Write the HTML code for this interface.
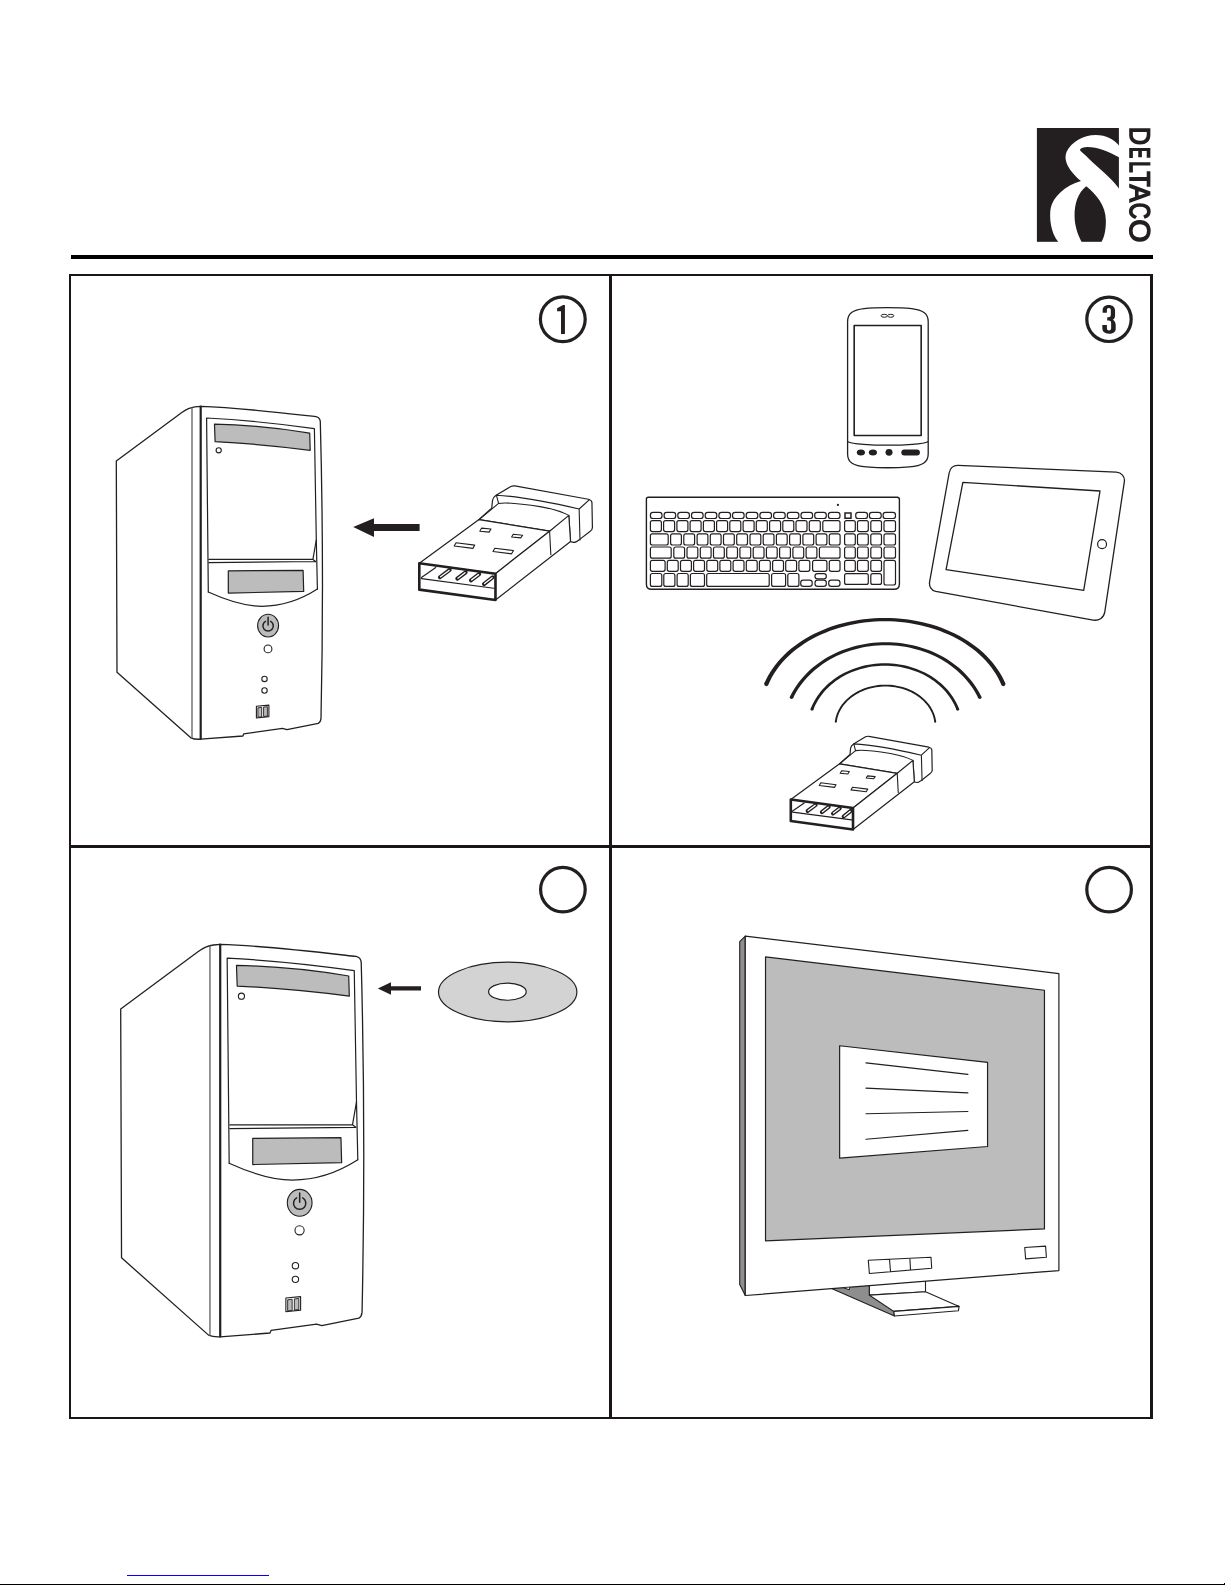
<!DOCTYPE html>
<html><head><meta charset="utf-8"><title>DELTACO</title>
<style>
html,body{margin:0;padding:0;background:#fff;}
body{width:1225px;height:1585px;position:relative;overflow:hidden;font-family:"Liberation Sans",sans-serif;}
svg{position:absolute;left:0;top:0;}
.s{fill:none;stroke:#231f20;vector-effect:non-scaling-stroke;stroke-linejoin:round;stroke-linecap:round;}
.w{fill:#fff;stroke:#231f20;vector-effect:non-scaling-stroke;stroke-linejoin:round;}
.lt{stroke:#231f20;stroke-width:1.5px;vector-effect:non-scaling-stroke;stroke-linejoin:miter;stroke-miterlimit:2;}
.g{fill:#bcbcbc;stroke:#231f20;vector-effect:non-scaling-stroke;stroke-linejoin:round;}
</style></head>
<body>
<svg width="1225" height="1585" viewBox="0 0 1225 1585">
<!-- top rule -->
<rect x="71" y="255" width="1082" height="4" fill="#000"/>
<!-- frame -->
<rect x="70" y="275" width="1082" height="1143" fill="none" stroke="#1a1617" stroke-width="2"/>
<rect x="1150" y="274" width="3" height="1145" fill="#1a1617"/>
<rect x="609" y="275" width="3" height="1143" fill="#1a1617"/>
<rect x="70" y="845" width="1082" height="3" fill="#1a1617"/>
<!-- bottom line / link -->
<rect x="127" y="1575" width="142" height="1" fill="#0000ff"/>
<rect x="0" y="1584" width="1225" height="1" fill="#000"/>
<rect x="1224" y="1583" width="1" height="1" fill="#000"/>

<!-- step circles -->
<circle cx="562.8" cy="319.2" r="22.4" fill="none" stroke="#231f20" stroke-width="3.2"/>
<path d="M568,432 L660,383 L688,383 L688,825 L628,825 L628,478 L568,478 Z" transform="translate(520,280) scale(0.065306)" fill="#231f20"/>
<circle cx="1109" cy="319.3" r="22.2" fill="none" stroke="#231f20" stroke-width="3.2"/>
<path d="M500,500 L500,460 C500,410 545,383 595,383 C650,383 690,415 690,470 L690,545 C690,580 675,600 655,610 C680,625 700,650 700,690 L700,745 C700,795 660,822 598,822 C535,822 495,790 495,735 L495,690 L565,690 L565,730 C565,760 575,772 598,772 C620,772 630,760 630,730 L630,660 C630,630 615,620 590,620 L570,620 L570,570 L590,570 C615,570 625,560 625,530 L625,465 C625,440 615,430 595,430 C575,430 565,440 565,465 L565,500 Z" transform="translate(1070,280) scale(0.065306)" fill="#231f20"/>
<circle cx="562.9" cy="889.6" r="22.3" fill="none" stroke="#231f20" stroke-width="3.2"/>
<circle cx="1109.1" cy="889.6" r="22.3" fill="none" stroke="#231f20" stroke-width="3.2"/>


<!-- TOWER (panel 1 coords) -->
<defs>
<g id="tower">
<path class="w" stroke-width="1.3" d="M116.3,461.1 L181.8,412.6 C186,409.5 189,407.6 195,406.9 L200.7,406.3 C239,407.6 278,412.3 316,416.6 Q320,417.6 320.3,421.6 C322.4,500 323.6,600 321,718.5 Q320.6,722.2 318.3,723.4 L286.9,729.7 L282.4,728.4 L243.8,733.8 L242.9,736 L200.7,739.2 Q194.5,739.5 190.8,737.8 L117,672.2 Z"/>
<path class="s" stroke-width="1.4" style="stroke:#6a6a6a" d="M192,408 L192,737.8"/>
<path class="s" stroke-width="2.2" d="M200.7,406.6 L200.7,739"/>
<path class="s" stroke-width="1.2" d="M206.6,418 Q262,421 314.4,428.7 L316.3,540 L317.4,589.1 M206.6,418 L208.3,592"/>
<path class="s" stroke-width="1.2" d="M208.9,559.4 L312.9,559.4 L316.3,540 M312.9,559.4 L315.7,561.5 M208.9,562.6 L315.7,561.5"/>
<path class="s" stroke-width="1.2" d="M208.3,592 C228,601 246,606.3 262,606.3 C282,606.3 302,599 317.4,589.1"/>
<path class="g" stroke-width="1.2" d="M214.5,424.2 Q262,425.1 309.7,433.2 L310.2,450.3 Q262,444 215.1,441.7 Z"/>
<circle class="w" stroke-width="1.1" cx="218.7" cy="450.3" r="2.6"/>
<path class="g" stroke-width="1.2" d="M228.3,570.9 L303.1,570.3 L303.7,591.4 L228.3,593.1 Z"/>
<ellipse class="g" stroke-width="1.1" cx="268.1" cy="625.6" rx="10.5" ry="11.4"/>
<path class="s" stroke-width="1.5" d="M270.7,621.4 A5.2,5.2 0 1 1 265.5,621.4 M268.1,617.3 L268.1,625"/>
<circle class="w" stroke-width="1.1" cx="268" cy="648.9" r="3.9"/>
<circle class="w" stroke-width="1.1" cx="264.5" cy="678.9" r="2.7"/>
<circle class="w" stroke-width="1.1" cx="264.5" cy="690.5" r="2.7"/>
<path class="w" stroke-width="1.1" d="M256.4,706.3 L268.9,705.1 L268.9,716.6 L256.4,718 Z"/>
<path class="g" stroke-width="0.9" d="M257.9,707.8 L261.7,707.4 L261.7,716.8 L257.9,717.2 Z M263.6,707.1 L267.4,706.7 L267.4,716.1 L263.6,716.5 Z"/>
</g>
</defs>
<use href="#tower"/>
<use href="#tower" transform="translate(120.7,944.3) scale(1.179) translate(-116.3,-406.3)"/>


<!-- USB DONGLE (drawn in local coords) -->
<defs>
<g id="dongle">
<!-- cap -->
<path class="w" stroke-width="1.2" d="M527,181 L532,132 C535,115 545,104 555,98 L650,42 C658,38 666,37 676,38 L1150,124 C1164,128 1172,134 1173,145 L1176,306 C1176,318 1170,326 1160,332 L1090,386 L1070,399 C1060,404 1045,402 1035,397 L900,330 L445,255 Z"/>
<path class="s" stroke-width="1.1" d="M558,98 Q758.75,109.5 1090.5,187 L1156.8,126 M1090.5,187 L1096,386 M557,98 L571,151"/>
<path class="s" stroke-width="1.1" d="M571,151 C600,145 700,150 847,173 C930,188 990,210 1024,228 L1035,397"/>
<!-- body top & side -->
<path class="w" stroke-width="1.2" d="M60,537 L445,255 L900,330 L551,604 Z"/>
<path class="s" stroke-width="1.1" d="M445,255 L571,151"/>
<path class="w" stroke-width="1.2" d="M551,604 L900,330 L1024,228 L1035,397 L551,774 Z"/>
<path class="s" stroke-width="1.1" d="M900,330 L908,482"/>
<!-- holes -->
<path class="w" stroke-width="1.1" d="M462,310 L522,316 L510,336 L450,330 Z M666,350 L726,356 L714,373 L655,367 Z M297,405 L417,420 L405,441 L285,426 Z M547,440 L667,455 L655,476 L535,461 Z"/>
<!-- front face -->
<path class="w" stroke-width="2.6" d="M60,537 L551,604 L551,774 L60,707 Z"/>
<path class="s" stroke-width="1.2" d="M74,628 L166,564 M74,636 L540,698"/>
<g>
<path class="s" stroke-width="4.0" d="M193,627 L256,580 M305,636 L359,595 M393,647 L446,607 M477,671 L533,627"/>
</g>
<g>
<path class="s" style="stroke:#fff" stroke-width="1.3" d="M197,624 L252,583 M309,633 L355,598 M397,644 L442,610 M481,668 L529,630"/>
</g>
</g>
</defs>
<use href="#dongle" transform="translate(410,480) scale(0.15511)"/>
<use href="#dongle" transform="translate(783.2,731.5) scale(0.1267)"/>
<!-- arrows -->
<path d="M353.2,527.1 L374,518.2 L374,523.9 L419.6,523.9 L419.6,530.9 L374,530.9 L374,536.9 Z" fill="#231f20"/>
<path d="M377.8,988.5 L391,982.3 L391,986.2 L421,986.2 L421,990.6 L391,990.6 L391,994.7 Z" fill="#231f20"/>
<!-- CD -->
<ellipse cx="507.7" cy="992" rx="69.2" ry="29.8" fill="#d3d3d3" stroke="#231f20" stroke-width="1.2"/>
<ellipse cx="507.4" cy="991.7" rx="18.8" ry="8.55" fill="#fff" stroke="#231f20" stroke-width="1.2"/>


<!-- PANEL 3 -->
<g id="phone" transform="translate(830,295) scale(0.113533)">
<path class="w" stroke-width="1.3" d="M155,235 C155,160 200,132 300,120 C400,108 610,108 720,120 C815,132 865,160 865,235 L865,1400 C865,1475 810,1505 700,1514 C600,1522 420,1522 320,1514 C205,1505 155,1475 155,1400 Z"/>
<rect class="w" stroke-width="1.6" x="213" y="268" width="590" height="969"/>
<path class="s" stroke-width="1.3" d="M158,1292 C190,1312 380,1324 510,1323 C640,1324 830,1312 862,1292"/>
<ellipse class="w" stroke-width="1.0" cx="478" cy="183" rx="28" ry="13"/>
<ellipse class="w" stroke-width="1.0" cx="535" cy="183" rx="28" ry="13"/>
<g fill="#231f20">
<ellipse cx="272" cy="1387" rx="36" ry="26"/>
<ellipse cx="378" cy="1387" rx="36" ry="26"/>
<ellipse cx="520" cy="1386" rx="31" ry="30"/>
<rect x="628" y="1361" width="164" height="52" rx="26"/>
</g>
</g>
<g id="tablet" transform="translate(920,455) scale(0.171438)">
<path class="w" stroke-width="1.3" d="M222,60 L1145,100 C1175,102 1196,125 1192,155 L1078,915 C1073,948 1045,968 1010,963 L92,796 C65,790 52,765 56,740 L170,105 C175,78 195,59 222,60 Z"/>
<path class="w" stroke-width="1.3" d="M250,160 L1050,210 L955,790 L152,668 Z"/>
<circle class="w" stroke-width="1.2" cx="1062" cy="520" r="26"/>
</g>
<g id="keyboard">
<path class="w" stroke-width="1.4" d="M648.2,497.2 L897.2,497.2 Q899.4,497.2 899.4,499.4 L899.4,584 Q899.4,589.3 894,589.3 L651.5,589.3 Q646.4,589.3 646.4,584.2 L646.4,499 Q646.4,497.2 648.2,497.2 Z"/>
<circle cx="837.9" cy="504.9" r="1.1" fill="#231f20"/>
<rect class="w" stroke-width="1.2" x="650.4" y="512.3" width="11.6" height="6.2" rx="2.6"/>
<rect class="w" stroke-width="1.2" x="664.1" y="512.3" width="11.6" height="6.2" rx="2.6"/>
<rect class="w" stroke-width="1.2" x="677.8" y="512.3" width="11.6" height="6.2" rx="2.6"/>
<rect class="w" stroke-width="1.2" x="691.5" y="512.3" width="11.6" height="6.2" rx="2.6"/>
<rect class="w" stroke-width="1.2" x="705.2" y="512.3" width="11.6" height="6.2" rx="2.6"/>
<rect class="w" stroke-width="1.2" x="718.9" y="512.3" width="11.6" height="6.2" rx="2.6"/>
<rect class="w" stroke-width="1.2" x="732.5" y="512.3" width="11.6" height="6.2" rx="2.6"/>
<rect class="w" stroke-width="1.2" x="746.2" y="512.3" width="11.6" height="6.2" rx="2.6"/>
<rect class="w" stroke-width="1.2" x="759.9" y="512.3" width="11.6" height="6.2" rx="2.6"/>
<rect class="w" stroke-width="1.2" x="773.6" y="512.3" width="11.6" height="6.2" rx="2.6"/>
<rect class="w" stroke-width="1.2" x="787.3" y="512.3" width="11.6" height="6.2" rx="2.6"/>
<rect class="w" stroke-width="1.2" x="801.0" y="512.3" width="11.6" height="6.2" rx="2.6"/>
<rect class="w" stroke-width="1.2" x="814.7" y="512.3" width="11.6" height="6.2" rx="2.6"/>
<rect class="w" stroke-width="1.2" x="828.4" y="512.3" width="11.6" height="6.2" rx="2.6"/>
<rect class="w" stroke-width="1.2" x="855.7" y="512.3" width="11.8" height="6.2" rx="2.6"/>
<rect class="w" stroke-width="1.2" x="869.4" y="512.3" width="11.8" height="6.2" rx="2.6"/>
<rect class="w" stroke-width="1.2" x="883.1" y="512.3" width="12.4" height="6.2" rx="2.6"/>
<rect class="w" stroke-width="1.2" x="650.4" y="520.6" width="11.0" height="11.0" rx="2.0"/>
<rect class="w" stroke-width="1.2" x="663.6" y="520.6" width="11.0" height="11.0" rx="2.0"/>
<rect class="w" stroke-width="1.2" x="676.9" y="520.6" width="11.0" height="11.0" rx="2.0"/>
<rect class="w" stroke-width="1.2" x="690.1" y="520.6" width="11.0" height="11.0" rx="2.0"/>
<rect class="w" stroke-width="1.2" x="703.4" y="520.6" width="11.0" height="11.0" rx="2.0"/>
<rect class="w" stroke-width="1.2" x="716.6" y="520.6" width="11.0" height="11.0" rx="2.0"/>
<rect class="w" stroke-width="1.2" x="729.8" y="520.6" width="11.0" height="11.0" rx="2.0"/>
<rect class="w" stroke-width="1.2" x="743.1" y="520.6" width="11.0" height="11.0" rx="2.0"/>
<rect class="w" stroke-width="1.2" x="756.3" y="520.6" width="11.0" height="11.0" rx="2.0"/>
<rect class="w" stroke-width="1.2" x="769.6" y="520.6" width="11.0" height="11.0" rx="2.0"/>
<rect class="w" stroke-width="1.2" x="782.8" y="520.6" width="11.0" height="11.0" rx="2.0"/>
<rect class="w" stroke-width="1.2" x="796.0" y="520.6" width="11.0" height="11.0" rx="2.0"/>
<rect class="w" stroke-width="1.2" x="809.3" y="520.6" width="11.0" height="11.0" rx="2.0"/>
<rect class="w" stroke-width="1.2" x="822.8" y="520.6" width="17.2" height="11.0" rx="2.0"/>
<rect class="w" stroke-width="1.2" x="650.4" y="533.8" width="17.8" height="11.2" rx="2.0"/>
<rect class="w" stroke-width="1.2" x="670.6" y="533.8" width="10.8" height="11.2" rx="2.0"/>
<rect class="w" stroke-width="1.2" x="683.8" y="533.8" width="10.8" height="11.2" rx="2.0"/>
<rect class="w" stroke-width="1.2" x="697.1" y="533.8" width="10.8" height="11.2" rx="2.0"/>
<rect class="w" stroke-width="1.2" x="710.3" y="533.8" width="10.8" height="11.2" rx="2.0"/>
<rect class="w" stroke-width="1.2" x="723.5" y="533.8" width="10.8" height="11.2" rx="2.0"/>
<rect class="w" stroke-width="1.2" x="736.7" y="533.8" width="10.8" height="11.2" rx="2.0"/>
<rect class="w" stroke-width="1.2" x="750.0" y="533.8" width="10.8" height="11.2" rx="2.0"/>
<rect class="w" stroke-width="1.2" x="763.2" y="533.8" width="10.8" height="11.2" rx="2.0"/>
<rect class="w" stroke-width="1.2" x="776.4" y="533.8" width="10.8" height="11.2" rx="2.0"/>
<rect class="w" stroke-width="1.2" x="789.6" y="533.8" width="10.8" height="11.2" rx="2.0"/>
<rect class="w" stroke-width="1.2" x="802.9" y="533.8" width="10.8" height="11.2" rx="2.0"/>
<rect class="w" stroke-width="1.2" x="816.1" y="533.8" width="10.8" height="11.2" rx="2.0"/>
<rect class="w" stroke-width="1.2" x="829.3" y="533.8" width="10.8" height="11.2" rx="2.0"/>
<rect class="w" stroke-width="1.2" x="650.4" y="547.0" width="20.8" height="11.2" rx="2.0"/>
<rect class="w" stroke-width="1.2" x="673.8" y="547.0" width="10.8" height="11.2" rx="2.0"/>
<rect class="w" stroke-width="1.2" x="687.0" y="547.0" width="10.8" height="11.2" rx="2.0"/>
<rect class="w" stroke-width="1.2" x="700.3" y="547.0" width="10.8" height="11.2" rx="2.0"/>
<rect class="w" stroke-width="1.2" x="713.5" y="547.0" width="10.8" height="11.2" rx="2.0"/>
<rect class="w" stroke-width="1.2" x="726.7" y="547.0" width="10.8" height="11.2" rx="2.0"/>
<rect class="w" stroke-width="1.2" x="739.9" y="547.0" width="10.8" height="11.2" rx="2.0"/>
<rect class="w" stroke-width="1.2" x="753.2" y="547.0" width="10.8" height="11.2" rx="2.0"/>
<rect class="w" stroke-width="1.2" x="766.4" y="547.0" width="10.8" height="11.2" rx="2.0"/>
<rect class="w" stroke-width="1.2" x="779.6" y="547.0" width="10.8" height="11.2" rx="2.0"/>
<rect class="w" stroke-width="1.2" x="792.9" y="547.0" width="10.8" height="11.2" rx="2.0"/>
<rect class="w" stroke-width="1.2" x="806.1" y="547.0" width="10.8" height="11.2" rx="2.0"/>
<rect class="w" stroke-width="1.2" x="819.4" y="547.0" width="20.6" height="11.2" rx="2.0"/>
<rect class="w" stroke-width="1.2" x="650.4" y="560.3" width="14.7" height="11.0" rx="2.0"/>
<rect class="w" stroke-width="1.2" x="667.3" y="560.3" width="10.9" height="11.0" rx="2.0"/>
<rect class="w" stroke-width="1.2" x="680.5" y="560.3" width="10.9" height="11.0" rx="2.0"/>
<rect class="w" stroke-width="1.2" x="693.6" y="560.3" width="10.9" height="11.0" rx="2.0"/>
<rect class="w" stroke-width="1.2" x="706.8" y="560.3" width="10.9" height="11.0" rx="2.0"/>
<rect class="w" stroke-width="1.2" x="719.9" y="560.3" width="10.9" height="11.0" rx="2.0"/>
<rect class="w" stroke-width="1.2" x="733.1" y="560.3" width="10.9" height="11.0" rx="2.0"/>
<rect class="w" stroke-width="1.2" x="746.3" y="560.3" width="10.9" height="11.0" rx="2.0"/>
<rect class="w" stroke-width="1.2" x="759.4" y="560.3" width="10.9" height="11.0" rx="2.0"/>
<rect class="w" stroke-width="1.2" x="772.6" y="560.3" width="10.9" height="11.0" rx="2.0"/>
<rect class="w" stroke-width="1.2" x="785.7" y="560.3" width="10.9" height="11.0" rx="2.0"/>
<rect class="w" stroke-width="1.2" x="798.9" y="560.3" width="10.9" height="11.0" rx="2.0"/>
<rect class="w" stroke-width="1.2" x="812.6" y="560.3" width="14.3" height="11.0" rx="2.0"/>
<rect class="w" stroke-width="1.2" x="829.3" y="560.3" width="10.7" height="11.0" rx="2.0"/>
<rect class="w" stroke-width="1.2" x="650.4" y="573.5" width="11.4" height="12.9" rx="2.0"/>
<rect class="w" stroke-width="1.2" x="663.8" y="573.5" width="11.1" height="12.9" rx="2.0"/>
<rect class="w" stroke-width="1.2" x="677.1" y="573.5" width="11.1" height="12.9" rx="2.0"/>
<rect class="w" stroke-width="1.2" x="690.4" y="573.5" width="14.1" height="12.9" rx="2.0"/>
<rect class="w" stroke-width="1.2" x="706.7" y="573.5" width="62.5" height="12.9" rx="2.0"/>
<rect class="w" stroke-width="1.2" x="771.6" y="573.5" width="14.0" height="12.9" rx="2.0"/>
<rect class="w" stroke-width="1.2" x="787.8" y="573.5" width="11.1" height="12.9" rx="2.0"/>
<rect class="w" stroke-width="1.2" x="815.0" y="573.7" width="11.3" height="5.1" rx="2.4"/>
<rect class="w" stroke-width="1.2" x="800.7" y="580.1" width="11.5" height="6.3" rx="2.6"/>
<rect class="w" stroke-width="1.2" x="815.0" y="580.1" width="11.3" height="6.3" rx="2.6"/>
<rect class="w" stroke-width="1.2" x="828.7" y="580.1" width="11.3" height="6.3" rx="2.6"/>
<rect class="w" stroke-width="1.2" x="844.6" y="520.6" width="10.7" height="11.0" rx="2.0"/>
<rect class="w" stroke-width="1.2" x="857.5" y="520.6" width="10.8" height="11.0" rx="2.0"/>
<rect class="w" stroke-width="1.2" x="870.8" y="520.6" width="10.7" height="11.0" rx="2.0"/>
<rect class="w" stroke-width="1.2" x="884.0" y="520.6" width="11.5" height="11.0" rx="2.0"/>
<rect class="w" stroke-width="1.2" x="844.6" y="533.8" width="10.7" height="11.2" rx="2.0"/>
<rect class="w" stroke-width="1.2" x="857.5" y="533.8" width="10.8" height="11.2" rx="2.0"/>
<rect class="w" stroke-width="1.2" x="870.8" y="533.8" width="10.7" height="11.2" rx="2.0"/>
<rect class="w" stroke-width="1.2" x="884.0" y="533.8" width="11.5" height="11.2" rx="2.0"/>
<rect class="w" stroke-width="1.2" x="844.6" y="547.0" width="10.7" height="11.2" rx="2.0"/>
<rect class="w" stroke-width="1.2" x="857.5" y="547.0" width="10.8" height="11.2" rx="2.0"/>
<rect class="w" stroke-width="1.2" x="870.8" y="547.0" width="10.7" height="11.2" rx="2.0"/>
<rect class="w" stroke-width="1.2" x="884.0" y="547.0" width="11.5" height="11.2" rx="2.0"/>
<rect class="w" stroke-width="1.2" x="844.6" y="560.3" width="10.7" height="11.0" rx="2.0"/>
<rect class="w" stroke-width="1.2" x="857.5" y="560.3" width="10.8" height="11.0" rx="2.0"/>
<rect class="w" stroke-width="1.2" x="870.8" y="560.3" width="10.7" height="11.0" rx="2.0"/>
<rect class="w" stroke-width="1.2" x="884.0" y="560.3" width="11.5" height="24.7" rx="2.0"/>
<rect class="w" stroke-width="1.2" x="844.6" y="573.7" width="23.7" height="10.7" rx="2.0"/>
<rect class="w" stroke-width="1.2" x="870.8" y="573.7" width="10.7" height="10.7" rx="2.0"/>
<rect class="w" stroke-width="1.5" x="845" y="512.9" width="6" height="5.3" style="stroke-linejoin:miter"/>
</g>
<g id="waves">
<path fill="#231f20" d="M1005.35,683.50 L1003.65,679.75 L1001.75,676.06 L999.63,672.44 L997.31,668.88 L994.79,665.40 L992.07,662.00 L989.16,658.70 L986.06,655.48 L982.78,652.36 L979.33,649.35 L975.70,646.45 L971.92,643.67 L967.98,641.01 L963.89,638.47 L959.65,636.06 L955.29,633.79 L950.79,631.65 L946.18,629.66 L941.46,627.82 L936.64,626.12 L931.73,624.57 L926.73,623.18 L921.66,621.95 L916.52,620.88 L911.32,619.97 L906.08,619.22 L900.80,618.64 L895.49,618.22 L890.16,617.97 L884.82,617.89 L879.48,617.97 L874.15,618.22 L868.84,618.64 L863.56,619.22 L858.32,619.97 L853.12,620.88 L847.98,621.95 L842.91,623.18 L837.91,624.57 L833.00,626.12 L828.18,627.82 L823.46,629.66 L818.85,631.65 L814.35,633.79 L809.99,636.06 L805.75,638.47 L801.66,641.01 L797.72,643.67 L793.94,646.45 L790.31,649.35 L786.86,652.36 L783.58,655.48 L780.48,658.70 L777.57,662.00 L774.85,665.40 L772.33,668.88 L770.01,672.44 L767.89,676.06 L765.99,679.75 L764.29,683.50 L768.40,684.50 L770.04,680.90 L771.88,677.34 L773.92,673.85 L776.16,670.42 L778.60,667.07 L781.23,663.80 L784.04,660.61 L787.03,657.51 L790.20,654.51 L793.53,651.61 L797.03,648.81 L800.69,646.13 L804.50,643.56 L808.45,641.12 L812.54,638.80 L816.75,636.61 L821.09,634.55 L825.55,632.63 L830.11,630.85 L834.76,629.22 L839.51,627.73 L844.34,626.39 L849.24,625.20 L854.20,624.17 L859.22,623.29 L864.29,622.57 L869.39,622.01 L874.52,621.61 L879.66,621.37 L884.82,621.29 L889.98,621.37 L895.12,621.61 L900.25,622.01 L905.35,622.57 L910.42,623.29 L915.44,624.17 L920.40,625.20 L925.30,626.39 L930.13,627.73 L934.88,629.22 L939.53,630.85 L944.09,632.63 L948.55,634.55 L952.89,636.61 L957.10,638.80 L961.19,641.12 L965.14,643.56 L968.95,646.13 L972.61,648.81 L976.11,651.61 L979.44,654.51 L982.61,657.51 L985.60,660.61 L988.41,663.80 L991.04,667.07 L993.48,670.42 L995.72,673.85 L997.76,677.34 L999.60,680.90 L1001.24,684.50Z"/>
<circle fill="#231f20" cx="1003.29" cy="684.00" r="2.15"/>
<circle fill="#231f20" cx="766.35" cy="684.00" r="2.15"/>
<path fill="#231f20" d="M981.36,696.74 L979.77,693.57 L978.03,690.46 L976.14,687.40 L974.11,684.41 L971.94,681.49 L969.64,678.65 L967.20,675.89 L964.63,673.20 L961.94,670.61 L959.13,668.11 L956.21,665.70 L953.17,663.40 L950.03,661.19 L946.78,659.10 L943.44,657.11 L940.01,655.24 L936.49,653.48 L932.90,651.84 L929.23,650.32 L925.49,648.93 L921.68,647.66 L917.82,646.53 L913.91,645.52 L909.96,644.64 L905.97,643.89 L901.94,643.28 L897.89,642.80 L893.82,642.46 L889.74,642.26 L885.65,642.19 L881.56,642.26 L877.48,642.46 L873.41,642.80 L869.36,643.28 L865.33,643.89 L861.34,644.64 L857.39,645.52 L853.48,646.53 L849.62,647.66 L845.81,648.93 L842.07,650.32 L838.40,651.84 L834.81,653.48 L831.29,655.24 L827.86,657.11 L824.52,659.10 L821.27,661.19 L818.13,663.40 L815.09,665.70 L812.17,668.11 L809.36,670.61 L806.67,673.20 L804.10,675.89 L801.66,678.65 L799.36,681.49 L797.19,684.41 L795.16,687.40 L793.27,690.46 L791.53,693.57 L789.94,696.74 L793.18,697.86 L794.72,694.80 L796.41,691.79 L798.23,688.84 L800.19,685.95 L802.29,683.14 L804.52,680.39 L806.87,677.72 L809.35,675.13 L811.95,672.63 L814.66,670.21 L817.49,667.89 L820.42,665.66 L823.46,663.54 L826.59,661.51 L829.82,659.60 L833.13,657.79 L836.53,656.09 L840.01,654.51 L843.55,653.04 L847.17,651.70 L850.84,650.48 L854.57,649.38 L858.35,648.40 L862.17,647.55 L866.02,646.83 L869.91,646.24 L873.82,645.78 L877.76,645.45 L881.70,645.26 L885.65,645.19 L889.60,645.26 L893.54,645.45 L897.48,645.78 L901.39,646.24 L905.28,646.83 L909.13,647.55 L912.95,648.40 L916.73,649.38 L920.46,650.48 L924.13,651.70 L927.75,653.04 L931.29,654.51 L934.77,656.09 L938.17,657.79 L941.48,659.60 L944.71,661.51 L947.84,663.54 L950.88,665.66 L953.81,667.89 L956.64,670.21 L959.35,672.63 L961.95,675.13 L964.43,677.72 L966.78,680.39 L969.01,683.14 L971.11,685.95 L973.07,688.84 L974.89,691.79 L976.58,694.80 L978.12,697.86Z"/>
<circle fill="#231f20" cx="979.74" cy="697.30" r="1.75"/>
<circle fill="#231f20" cx="791.56" cy="697.30" r="1.75"/>
<path fill="#231f20" d="M959.07,708.83 L958.01,706.23 L956.81,703.66 L955.48,701.14 L954.04,698.66 L952.47,696.24 L950.78,693.88 L948.97,691.58 L947.05,689.35 L945.02,687.18 L942.89,685.09 L940.65,683.08 L938.32,681.15 L935.89,679.30 L933.37,677.54 L930.77,675.87 L928.08,674.29 L925.32,672.81 L922.49,671.43 L919.59,670.15 L916.63,668.97 L913.62,667.90 L910.55,666.94 L907.44,666.09 L904.29,665.34 L901.10,664.71 L897.89,664.19 L894.65,663.79 L891.40,663.50 L888.13,663.33 L884.86,663.27 L881.59,663.33 L878.32,663.50 L875.07,663.79 L871.83,664.19 L868.62,664.71 L865.43,665.34 L862.28,666.09 L859.17,666.94 L856.10,667.90 L853.09,668.97 L850.13,670.15 L847.23,671.43 L844.40,672.81 L841.64,674.29 L838.95,675.87 L836.35,677.54 L833.83,679.30 L831.40,681.15 L829.07,683.08 L826.83,685.09 L824.70,687.18 L822.67,689.35 L820.75,691.58 L818.94,693.88 L817.25,696.24 L815.68,698.66 L814.24,701.14 L812.91,703.66 L811.71,706.23 L810.65,708.83 L813.41,709.57 L814.43,707.06 L815.59,704.58 L816.86,702.15 L818.26,699.77 L819.77,697.44 L821.40,695.16 L823.13,692.95 L824.98,690.80 L826.93,688.71 L828.99,686.70 L831.14,684.76 L833.39,682.89 L835.73,681.11 L838.15,679.42 L840.66,677.81 L843.24,676.29 L845.90,674.86 L848.63,673.53 L851.42,672.30 L854.27,671.17 L857.17,670.13 L860.12,669.21 L863.12,668.38 L866.15,667.67 L869.22,667.06 L872.32,666.56 L875.43,666.17 L878.57,665.89 L881.71,665.73 L884.86,665.67 L888.01,665.73 L891.15,665.89 L894.29,666.17 L897.40,666.56 L900.50,667.06 L903.57,667.67 L906.60,668.38 L909.60,669.21 L912.55,670.13 L915.45,671.17 L918.30,672.30 L921.09,673.53 L923.82,674.86 L926.48,676.29 L929.06,677.81 L931.57,679.42 L933.99,681.11 L936.33,682.89 L938.58,684.76 L940.73,686.70 L942.79,688.71 L944.74,690.80 L946.59,692.95 L948.32,695.16 L949.95,697.44 L951.46,699.77 L952.86,702.15 L954.13,704.58 L955.29,707.06 L956.31,709.57Z"/>
<circle fill="#231f20" cx="957.69" cy="709.20" r="1.45"/>
<circle fill="#231f20" cx="812.03" cy="709.20" r="1.45"/>
<path fill="#231f20" d="M936.18,721.70 L935.87,719.70 L935.43,717.71 L934.88,715.74 L934.20,713.80 L933.41,711.88 L932.51,710.00 L931.49,708.16 L930.36,706.35 L929.12,704.60 L927.78,702.90 L926.34,701.25 L924.80,699.66 L923.17,698.13 L921.45,696.67 L919.64,695.28 L917.75,693.97 L915.78,692.73 L913.74,691.57 L911.63,690.49 L909.45,689.50 L907.23,688.59 L904.95,687.77 L902.62,687.05 L900.25,686.42 L897.85,685.88 L895.41,685.44 L892.95,685.09 L890.48,684.85 L887.99,684.70 L885.50,684.65 L883.01,684.70 L880.52,684.85 L878.05,685.09 L875.59,685.44 L873.15,685.88 L870.75,686.42 L868.38,687.05 L866.05,687.77 L863.77,688.59 L861.55,689.50 L859.37,690.49 L857.26,691.57 L855.22,692.73 L853.25,693.97 L851.36,695.28 L849.55,696.67 L847.83,698.13 L846.20,699.66 L844.66,701.25 L843.22,702.90 L841.88,704.60 L840.64,706.35 L839.51,708.16 L838.49,710.00 L837.59,711.88 L836.80,713.80 L836.12,715.74 L835.57,717.71 L835.13,719.70 L834.82,721.70 L836.71,721.90 L837.01,719.99 L837.43,718.09 L837.97,716.21 L838.61,714.35 L839.38,712.53 L840.25,710.73 L841.23,708.97 L842.31,707.25 L843.50,705.58 L844.79,703.96 L846.18,702.38 L847.66,700.87 L849.23,699.41 L850.89,698.02 L852.64,696.69 L854.46,695.44 L856.35,694.26 L858.32,693.15 L860.35,692.12 L862.44,691.17 L864.58,690.31 L866.78,689.53 L869.02,688.84 L871.30,688.24 L873.62,687.72 L875.96,687.30 L878.32,686.97 L880.71,686.74 L883.10,686.60 L885.50,686.55 L887.90,686.60 L890.29,686.74 L892.68,686.97 L895.04,687.30 L897.38,687.72 L899.70,688.24 L901.98,688.84 L904.22,689.53 L906.42,690.31 L908.56,691.17 L910.65,692.12 L912.68,693.15 L914.65,694.26 L916.54,695.44 L918.36,696.69 L920.11,698.02 L921.77,699.41 L923.34,700.87 L924.82,702.38 L926.21,703.96 L927.50,705.58 L928.69,707.25 L929.77,708.97 L930.75,710.73 L931.62,712.53 L932.39,714.35 L933.03,716.21 L933.57,718.09 L933.99,719.99 L934.29,721.90Z"/>
<circle fill="#231f20" cx="935.24" cy="721.80" r="0.95"/>
<circle fill="#231f20" cx="835.76" cy="721.80" r="0.95"/>
</g>

<!-- PANEL 4 MONITOR -->
<path d="M830.4,1287.9 L869.4,1285.3 L869.4,1295.1 L893.8,1311.4 L894.5,1316 Z" fill="#8e8e8e" stroke="#231f20" stroke-width="1.1" stroke-linejoin="round"/>
<path class="w" stroke-width="1.1" d="M869.4,1284 L925.5,1280.5 L925.5,1291.8 L869.4,1295.1 Z"/>
<path class="w" stroke-width="1.1" d="M869.4,1295.1 L925.5,1291.8 L959.1,1306.4 L893.8,1311.4 Z"/>
<path class="w" stroke-width="1.1" d="M893.8,1311.4 L959.1,1306.4 L958.4,1310.8 L894.5,1316 Z"/>
<g transform="translate(730,925) scale(0.277546)">
<path d="M35,60 L55,40 L55,1335 L35,1295 Z" fill="#908e8f" stroke="#231f20" stroke-width="1.1" style="vector-effect:non-scaling-stroke" stroke-linejoin="round"/>
<path class="w" stroke-width="1.2" d="M55,40 L1185,175 L1185,1245 L55,1335 Z"/>
<path class="g" stroke-width="1.2" d="M128,115 L1133,235 L1133,1095 L128,1138 Z"/>
<path class="w" stroke-width="1.2" d="M395,435 L928,495 L928,798 L395,840 Z"/>
<path class="s" stroke-width="1.2" d="M490,497 L857,538 M490,588 L857,605 M490,680 L857,672 M490,772 L857,740"/>
<path class="w" stroke-width="1.1" d="M1062,1162 L1137,1157 L1140,1197 L1065,1203 Z"/>
</g>
<path d="M844.3,1287.9 L849.3,1287.5 L849.3,1289.6 Z" fill="#fff"/>
<path class="s" stroke-width="1.0" d="M849.4,1287.5 L849.4,1289.8 L844,1288"/>
<path class="w" stroke-width="1.1" d="M868.3,1260.2 L931,1257.2 L931.7,1268.3 L869.4,1273.5 Z M889.5,1259.4 L890.5,1271.4 M909.9,1258.4 L910.5,1269.8"/>

<!-- LOGO -->
<g id="logo" aria-label="DELTACO">
<rect x="1036.9" y="128" width="82" height="113.8" fill="#231f20"/>
<path transform="translate(1030,120) scale(0.106123)" fill="#fff" d="M838,240 C790,185 720,142 620,142 C500,142 390,210 345,300 C320,360 345,420 380,470 C410,510 445,545 480,575 C330,620 220,720 195,830 C180,920 195,1060 265,1148 L265,1160 L485,1160 L485,1148 C440,1060 420,980 420,900 C420,790 450,690 530,625 C620,700 715,800 715,950 C715,1040 700,1100 675,1148 L675,1160 L850,1160 L850,660 L838,645 C760,540 640,450 560,370 C520,330 490,305 475,290 C465,275 480,258 540,255 C640,255 740,300 838,350 L850,356 L850,230 L838,240 Z"/>
<g transform="translate(1129.95,128) rotate(90)" fill="#231f20">
<g>
<path class="lt" transform="translate(-1.11,0) scale(0.01228,-0.01398)" d="M1381 719Q1381 501 1296.0 337.5Q1211 174 1055.0 87.0Q899 0 695 0H168V1409H634Q992 1409 1186.5 1229.5Q1381 1050 1381 719ZM1189 719Q1189 981 1045.5 1118.5Q902 1256 630 1256H359V153H673Q828 153 945.5 221.0Q1063 289 1126.0 417.0Q1189 545 1189 719Z"/>
<path class="lt" transform="translate(19.33,0) scale(0.00784,-0.01398)" d="M168 0V1409H1237V1253H359V801H1177V647H359V156H1278V0Z"/>
<path class="lt" transform="translate(33.31,0) scale(0.00975,-0.01398)" d="M168 0V1409H359V156H1071V0Z"/>
<path class="lt" transform="translate(43.39,0) scale(0.01218,-0.01398)" d="M720 1253V0H530V1253H46V1409H1204V1253Z"/>
<path class="lt" transform="translate(56.60,0) scale(0.01281,-0.01398)" d="M1167 0 1006 412H364L202 0H4L579 1409H796L1362 0ZM685 1265 676 1237Q651 1154 602 1024L422 561H949L768 1026Q740 1095 712 1182Z"/>
<path class="lt" transform="translate(74.82,0) scale(0.01087,-0.01398)" d="M792 1274Q558 1274 428.0 1123.5Q298 973 298 711Q298 452 433.5 294.5Q569 137 800 137Q1096 137 1245 430L1401 352Q1314 170 1156.5 75.0Q999 -20 791 -20Q578 -20 422.5 68.5Q267 157 185.5 321.5Q104 486 104 711Q104 1048 286.0 1239.0Q468 1430 790 1430Q1015 1430 1166.0 1342.0Q1317 1254 1388 1081L1207 1021Q1158 1144 1049.5 1209.0Q941 1274 792 1274Z"/>
<path class="lt" transform="translate(91.35,0) scale(0.01445,-0.01398)" d="M1495 711Q1495 490 1410.5 324.0Q1326 158 1168.0 69.0Q1010 -20 795 -20Q578 -20 420.5 68.0Q263 156 180.0 322.5Q97 489 97 711Q97 1049 282.0 1239.5Q467 1430 797 1430Q1012 1430 1170.0 1344.5Q1328 1259 1411.5 1096.0Q1495 933 1495 711ZM1300 711Q1300 974 1168.5 1124.0Q1037 1274 797 1274Q555 1274 423.0 1126.0Q291 978 291 711Q291 446 424.5 290.5Q558 135 795 135Q1039 135 1169.5 285.5Q1300 436 1300 711Z"/>
</g>
</g>
</g>

</svg>
</body></html>
